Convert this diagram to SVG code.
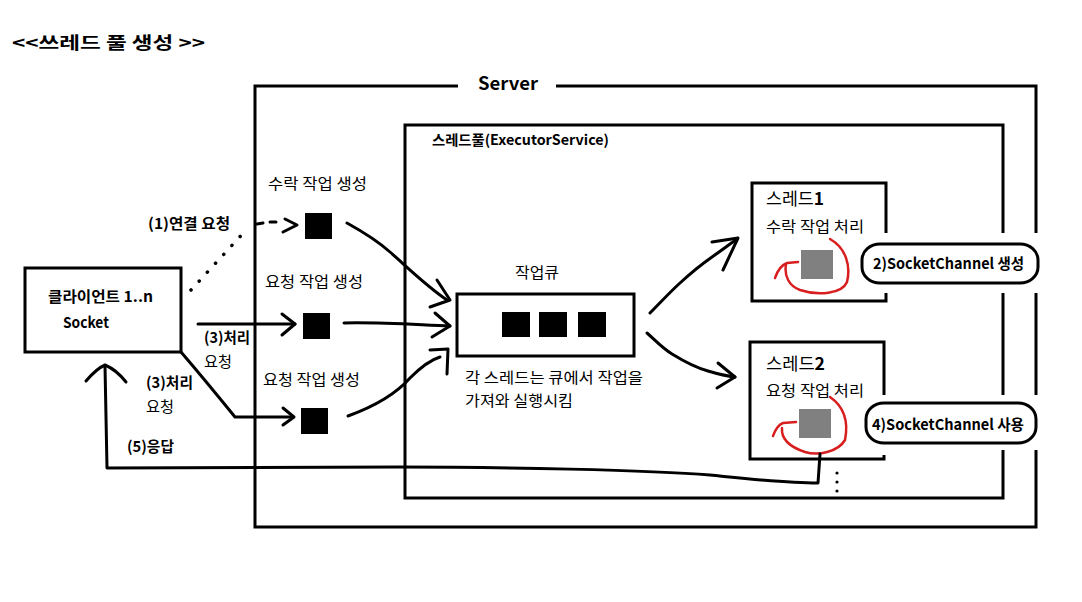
<svg xmlns="http://www.w3.org/2000/svg" width="1082" height="602" viewBox="0 0 1082 602">
<style>
.t{font-family:"Noto Sans CJK KR","Liberation Sans",sans-serif;fill:#000;font-size:15px}
.b{font-weight:bold}
.ln{fill:none;stroke:#000;stroke-width:3;stroke-linecap:round;stroke-linejoin:round}
.box{fill:none;stroke:#000;stroke-width:3}
.red{fill:none;stroke:#d81e1e;stroke-width:2.5;stroke-linecap:round;stroke-linejoin:round}
.task{fill:#000}
.gray{fill:#808080}
</style>
<rect width="1082" height="602" fill="#fff"/>
<text class="t b" x="12" y="49" style="font-size:17px" textLength="193" lengthAdjust="spacingAndGlyphs">&lt;&lt;쓰레드 풀 생성 &gt;&gt;</text>

<g id="server">
<path class="box" d="M458 86 H255 V527 H1036 V450 M1036 395 V293 M1036 233 V86 H556"/>
<text class="t b" x="478" y="90" style="font-size:18px" textLength="60" lengthAdjust="spacingAndGlyphs">Server</text>
</g>

<g id="pool">
<path class="box" d="M1003 233 V125 H405 V498 H1003 V450 M1003 395 V293"/>
<text class="t b" x="432" y="145" style="font-size:14px" textLength="177" lengthAdjust="spacingAndGlyphs">스레드풀(ExecutorService)</text>
</g>

<g id="client">
<rect class="box" x="25" y="268" width="156" height="84"/>
<text class="t b" x="48" y="302" textLength="105" lengthAdjust="spacingAndGlyphs">클라이언트 1..n</text>
<text class="t b" x="63" y="328" textLength="46" lengthAdjust="spacingAndGlyphs">Socket</text>
</g>

<g id="task-accept">
<text class="t" x="268" y="189" textLength="99" lengthAdjust="spacingAndGlyphs">수락 작업 생성</text>
<rect class="task" x="305" y="213" width="27" height="26"/>
</g>
<g id="task-request1">
<text class="t" x="265" y="287" textLength="98" lengthAdjust="spacingAndGlyphs">요청 작업 생성</text>
<rect class="task" x="303" y="313" width="27" height="26"/>
</g>
<g id="task-request2">
<text class="t" x="263" y="385" textLength="97" lengthAdjust="spacingAndGlyphs">요청 작업 생성</text>
<rect class="task" x="301" y="408" width="27" height="26"/>
</g>

<g id="queue">
<text class="t" x="515" y="278" textLength="44" lengthAdjust="spacingAndGlyphs">작업큐</text>
<rect class="box" x="457" y="294" width="177" height="62"/>
<rect class="task" x="502" y="312" width="28" height="25"/>
<rect class="task" x="539" y="312" width="28" height="25"/>
<rect class="task" x="578" y="312" width="28" height="25"/>
<text class="t" x="465" y="383" textLength="178" lengthAdjust="spacingAndGlyphs">각 스레드는 큐에서 작업을</text>
<text class="t" x="465" y="406" textLength="108" lengthAdjust="spacingAndGlyphs">가져와 실행시킴</text>
</g>

<g id="thread1">
<path class="box" d="M886 233 V183 H752 V301 H886 V293"/>
<text class="t" x="766" y="205" style="font-size:17px" textLength="58" lengthAdjust="spacingAndGlyphs">스레드<tspan class="b">1</tspan></text>
<text class="t" x="766" y="232" textLength="98" lengthAdjust="spacingAndGlyphs">수락 작업 처리</text>
<rect class="gray" x="801" y="250" width="32" height="29"/>
<path class="red" d="M830 239 C846 248 851 266 847 282 C842 294 818 296 800 290 C789 286 784 276 786 264"/>
<path class="red" d="M775 278 Q779 266 787 263 L798 262"/>
</g>

<g id="thread2">
<path class="box" d="M884 395 V342 H750 V459 H884 V455"/>
<text class="t" x="766" y="370" style="font-size:17px" textLength="59" lengthAdjust="spacingAndGlyphs">스레드<tspan class="b">2</tspan></text>
<text class="t" x="766" y="396" textLength="98" lengthAdjust="spacingAndGlyphs">요청 작업 처리</text>
<rect class="gray" x="799" y="409" width="32" height="29"/>
<path class="red" d="M830 397 C843 406 849 420 845 440 C838 452 818 456 805 452 C790 447 781 440 782 428"/>
<path class="red" d="M773 436 Q777 425 783 423 L796 422"/>
</g>

<g id="note-create">
<rect class="box" x="862" y="244" width="176" height="39" rx="18" ry="16" fill="#fff"/>
<text class="t b" x="873" y="269" textLength="151" lengthAdjust="spacingAndGlyphs">2)SocketChannel 생성</text>
</g>
<g id="note-use">
<rect class="box" x="866" y="403" width="170" height="40" rx="18" ry="16" fill="#fff"/>
<text class="t b" x="872" y="430" textLength="152" lengthAdjust="spacingAndGlyphs">4)SocketChannel 사용</text>
</g>

<g id="connectors">
<!-- (1) connect request, dotted -->
<path d="M191 290 L247 229" fill="none" stroke="#000" stroke-width="3.5" stroke-linecap="round" stroke-dasharray="0.1 12"/>
<path d="M257 224 L263 223 M270 222 L276 222" class="ln"/>
<path class="ln" d="M285 219 L297 225 L283 232"/>
<text class="t b" x="148" y="229" textLength="82" lengthAdjust="spacingAndGlyphs">(1)연결 요청</text>

<!-- (3) request, straight -->
<path class="ln" d="M198 324 L295 324"/>
<path class="ln" d="M282 314 L295 324 L282 335"/>
<text class="t b" x="204" y="343" textLength="46" lengthAdjust="spacingAndGlyphs">(3)처리</text>
<text class="t" x="204" y="367" textLength="28" lengthAdjust="spacingAndGlyphs">요청</text>

<!-- (3) request, bent -->
<path class="ln" d="M181 352 Q205 380 235 417 L293 417"/>
<path class="ln" d="M283 408 L294 417 L283 425"/>
<text class="t b" x="146" y="388" textLength="47" lengthAdjust="spacingAndGlyphs">(3)처리</text>
<text class="t" x="146" y="412" textLength="28" lengthAdjust="spacingAndGlyphs">요청</text>

<!-- tasks to queue -->
<path class="ln" d="M347 223 C365 233 380 243 390 252 C405 265 425 285 447 300"/>
<path class="ln" d="M437 280 L450 300 L430 307"/>
<path class="ln" d="M344 323 C380 322 420 325 450 326"/>
<path class="ln" d="M435 313 L450 326 L432 337"/>
<path class="ln" d="M348 416 C370 408 395 395 410 378 C420 368 430 360 440 357"/>
<path class="ln" d="M430 350 L448 349 L447 374"/>

<!-- queue to threads -->
<path class="ln" d="M650 313 C660 303 670 292 680 283 C692 272 702 264 712 257 C722 250 730 244 737 239"/>
<path class="ln" d="M712 242 L738 238 L723 270"/>
<path class="ln" d="M647 333 C655 340 662 348 672 354 C685 362 697 368 708 371 C718 374 726 376 735 377"/>
<path class="ln" d="M718 363 L735 377 L717 388"/>

<!-- (5) response -->
<path class="ln" d="M820 454 L818 483 C785 483 750 479 710 475 C650 470 500 467 400 467 L107 468 L105 366"/>
<path class="ln" d="M86 381 C92 374 98 368 105 365 C112 368 119 373 126 382"/>
<text class="t b" x="127" y="452" textLength="47" lengthAdjust="spacingAndGlyphs">(5)응답</text>

<!-- more threads -->
<circle cx="837" cy="473" r="1.6" fill="#000"/>
<circle cx="837" cy="482" r="1.6" fill="#000"/>
<circle cx="837" cy="491" r="1.6" fill="#000"/>
</g>
</svg>
